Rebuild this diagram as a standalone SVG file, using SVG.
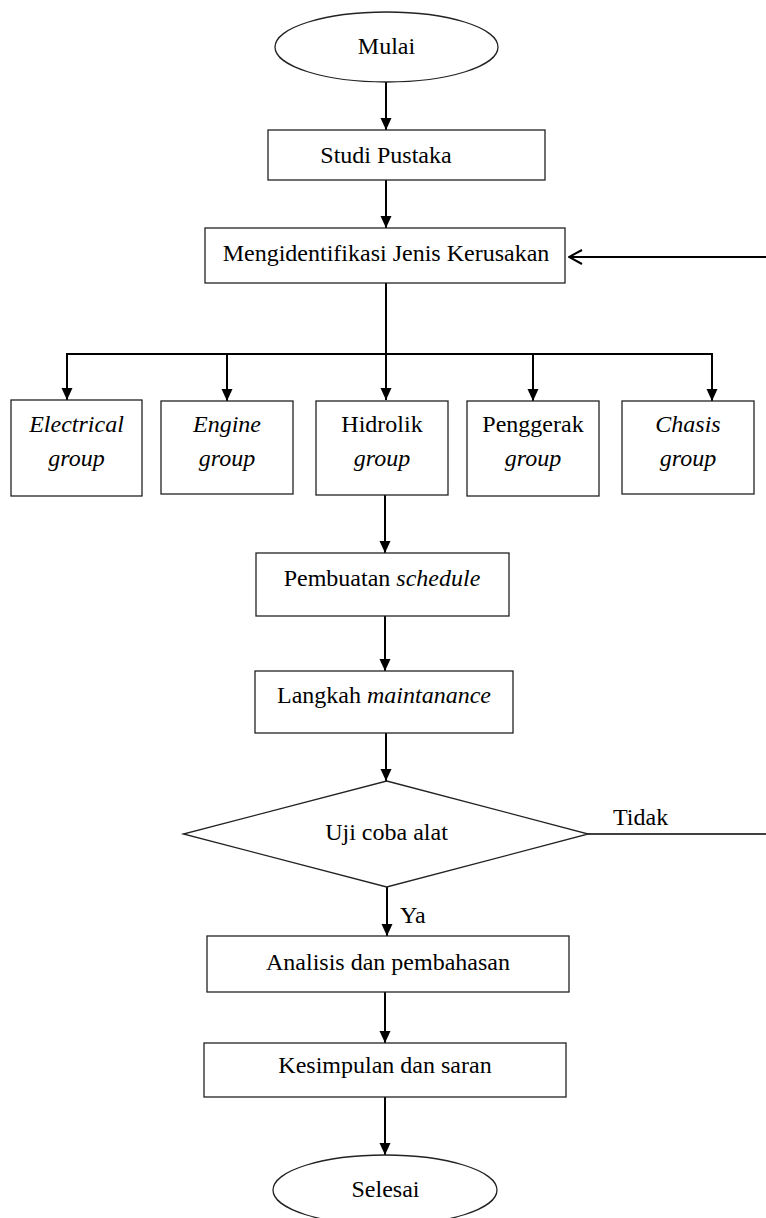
<svg xmlns="http://www.w3.org/2000/svg" width="766" height="1218" viewBox="0 0 766 1218">
<style>
.box{fill:#fff;stroke:#222;stroke-width:1.3}
.t{font-family:"Liberation Serif","Times New Roman",serif;font-size:24px;fill:#000;text-anchor:middle}
.i{font-style:italic}
.c{fill:none;stroke:#000;stroke-width:2}
.c1{fill:none;stroke:#000;stroke-width:1.6}
.lbl{font-family:"Liberation Serif","Times New Roman",serif;font-size:24px;fill:#000}
</style>
<defs>
<marker id="arr" viewBox="0 0 12 12" refX="12" refY="6" markerWidth="12" markerHeight="12" markerUnits="userSpaceOnUse" orient="auto">
<path d="M0,0.5 L12,6 L0,11.5 z" fill="#000"/>
</marker>
<marker id="open" viewBox="0 0 16 16" refX="15" refY="8" markerWidth="16" markerHeight="16" markerUnits="userSpaceOnUse" orient="auto">
<path d="M2,1 L15,8 L2,15" fill="none" stroke="#000" stroke-width="2"/>
</marker>
</defs>
<rect width="766" height="1218" fill="#fff"/>
<g id="connectors">
<path class="c" d="M386,82 V130" marker-end="url(#arr)"/>
<path class="c" d="M386,180 V228" marker-end="url(#arr)"/>
<path class="c" d="M386,283 V400" marker-end="url(#arr)"/>
<path class="c" d="M67,354 H712"/>
<path class="c" d="M67,353 V400" marker-end="url(#arr)"/>
<path class="c" d="M227,353 V401" marker-end="url(#arr)"/>
<path class="c" d="M533,353 V401" marker-end="url(#arr)"/>
<path class="c" d="M712,353 V401" marker-end="url(#arr)"/>
<path class="c" d="M385,495 V553" marker-end="url(#arr)"/>
<path class="c" d="M385,616 V671" marker-end="url(#arr)"/>
<path class="c" d="M386,733 V781" marker-end="url(#arr)"/>
<path class="c" d="M387,887 V936" marker-end="url(#arr)"/>
<path class="c" d="M385,992 V1043" marker-end="url(#arr)"/>
<path class="c" d="M385,1097 V1155" marker-end="url(#arr)"/>
<path class="c" d="M766,257 H569" marker-end="url(#open)"/>
<path class="c1" d="M588,834 H766"/>
<text class="lbl" x="613" y="825">Tidak</text>
<text class="lbl" x="400" y="923">Ya</text>
</g>
<g id="mulai">
<ellipse class="box" cx="386.5" cy="47" rx="111.5" ry="35"/>
<text class="t" x="386.5" y="54">Mulai</text>
</g>
<g id="studi">
<rect class="box" x="268" y="130" width="277" height="50"/>
<text class="t" x="386" y="163">Studi Pustaka</text>
</g>
<g id="identifikasi">
<rect class="box" x="205" y="228" width="360" height="55"/>
<text class="t" x="386" y="261">Mengidentifikasi Jenis Kerusakan</text>
</g>
<g id="electrical">
<rect class="box" x="11" y="400" width="131" height="96"/>
<text class="t i" x="76.5" y="432">Electrical</text>
<text class="t i" x="76.5" y="466">group</text>
</g>
<g id="engine">
<rect class="box" x="161" y="401" width="132" height="93"/>
<text class="t i" x="227" y="432">Engine</text>
<text class="t i" x="227" y="466">group</text>
</g>
<g id="hidrolik">
<rect class="box" x="316" y="401" width="132" height="94"/>
<text class="t" x="382" y="432">Hidrolik</text>
<text class="t i" x="382" y="466">group</text>
</g>
<g id="penggerak">
<rect class="box" x="467" y="401" width="132" height="95"/>
<text class="t" x="533" y="432">Penggerak</text>
<text class="t i" x="533" y="466">group</text>
</g>
<g id="chasis">
<rect class="box" x="622" y="401" width="132" height="93"/>
<text class="t i" x="688" y="432">Chasis</text>
<text class="t i" x="688" y="466">group</text>
</g>
<g id="pembuatan">
<rect class="box" x="256" y="553" width="253" height="63"/>
<text class="t" x="382" y="586">Pembuatan <tspan class="i">schedule</tspan></text>
</g>
<g id="langkah">
<rect class="box" x="255" y="671" width="258" height="62"/>
<text class="t" x="384" y="703">Langkah <tspan class="i">maintanance</tspan></text>
</g>
<g id="uji">
<polygon class="box" points="386.7,781 588.3,834 386.7,887 183.3,834"/>
<text class="t" x="386.5" y="840">Uji coba alat</text>
</g>
<g id="analisis">
<rect class="box" x="207" y="936" width="362" height="56"/>
<text class="t" x="388" y="970">Analisis dan pembahasan</text>
</g>
<g id="kesimpulan">
<rect class="box" x="204" y="1043" width="362" height="54"/>
<text class="t" x="385" y="1073">Kesimpulan dan saran</text>
</g>
<g id="selesai">
<ellipse class="box" cx="385" cy="1190" rx="112" ry="35"/>
<text class="t" x="385.5" y="1197">Selesai</text>
</g>
</svg>
